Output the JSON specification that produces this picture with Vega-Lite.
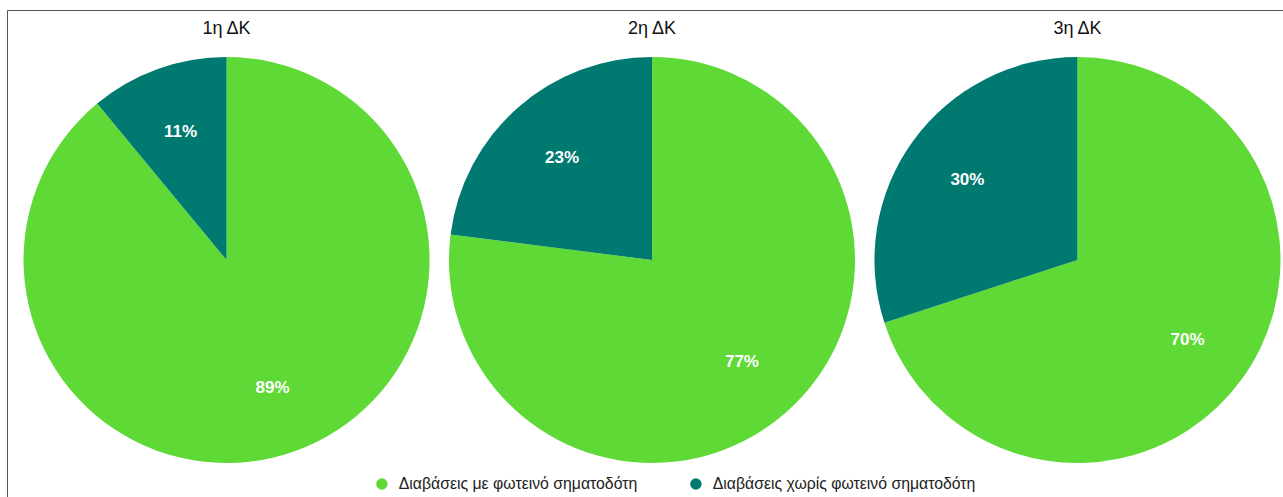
{
  "$schema": "https://vega.github.io/schema/vega-lite/v6.json",
  "width": 1290,
  "height": 500,
  "autosize": {"type": "none"},
  "padding": {"left": 7, "top": 10, "right": 0, "bottom": 0},
  "background": "white",
  "config": {
    "view": {"stroke": "#555555", "strokeWidth": 1},
    "font": "Liberation Sans"
  },
  "data": {
    "values": [
      {"dk": "1η ΔΚ", "kind": "Διαβάσεις με φωτεινό σηματοδότη", "share": 0.89},
      {"dk": "1η ΔΚ", "kind": "Διαβάσεις χωρίς φωτεινό σηματοδότη", "share": 0.11},
      {"dk": "2η ΔΚ", "kind": "Διαβάσεις με φωτεινό σηματοδότη", "share": 0.77},
      {"dk": "2η ΔΚ", "kind": "Διαβάσεις χωρίς φωτεινό σηματοδότη", "share": 0.23},
      {"dk": "3η ΔΚ", "kind": "Διαβάσεις με φωτεινό σηματοδότη", "share": 0.70},
      {"dk": "3η ΔΚ", "kind": "Διαβάσεις χωρίς φωτεινό σηματοδότη", "share": 0.30}
    ]
  },
  "transform": [
    {"stack": "share", "groupby": ["dk"], "sort": [{"field": "kind", "order": "ascending"}], "as": ["s0", "s1"]},
    {"calculate": "(datum.s0 + datum.s1) / 2", "as": "mid"}
  ],
  "encoding": {
    "x": {"field": "dk", "type": "nominal", "sort": "ascending", "scale": {"type": "point", "padding": 0.516}, "axis": null}
  },
  "layer": [
    {
      "mark": {"type": "arc", "outerRadius": 203},
      "encoding": {
        "theta": {"field": "s0", "type": "quantitative", "scale": {"domain": [0, 1]}},
        "theta2": {"field": "s1"},
        "color": {
          "field": "kind",
          "type": "nominal",
          "scale": {
            "domain": ["Διαβάσεις με φωτεινό σηματοδότη", "Διαβάσεις χωρίς φωτεινό σηματοδότη"],
            "range": ["#5ED935", "#007A70"]
          },
          "legend": {
            "orient": "none",
            "legendX": 367,
            "legendY": 466,
            "direction": "horizontal",
            "title": null,
            "symbolType": "circle",
            "symbolSize": 130,
            "symbolStrokeWidth": 0,
            "labelFontSize": 15.8,
            "labelColor": "#222222",
            "labelLimit": 0,
            "labelOffset": 9,
            "columnPadding": 50
          }
        }
      }
    },
    {
      "mark": {"type": "text", "radius": 136, "fontSize": 17, "fontWeight": "bold", "fill": "white", "align": "center", "baseline": "middle"},
      "encoding": {
        "theta": {"field": "mid", "type": "quantitative", "scale": {"domain": [0, 1]}},
        "text": {"field": "share", "type": "quantitative", "format": ".0%"}
      }
    },
    {
      "transform": [{"filter": "datum.kind == 'Διαβάσεις με φωτεινό σηματοδότη'"}],
      "mark": {"type": "text", "fontSize": 18, "fill": "#111111", "align": "center", "baseline": "middle"},
      "encoding": {
        "y": {"value": 19},
        "text": {"field": "dk"}
      }
    }
  ]
}
